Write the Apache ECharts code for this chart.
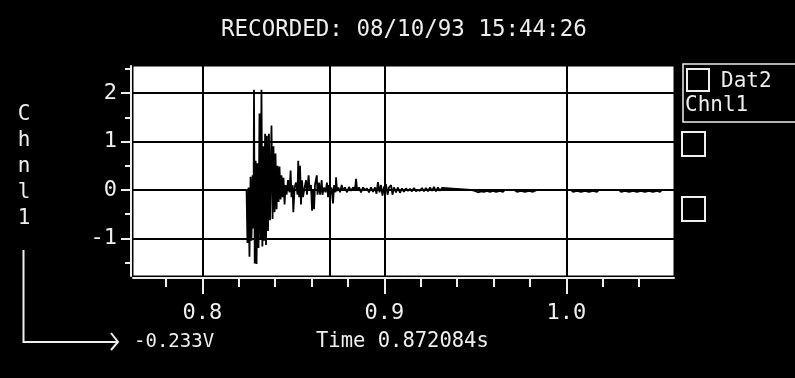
<!DOCTYPE html>
<html>
<head>
<meta charset="utf-8">
<script src="https://cdn.jsdelivr.net/npm/echarts@6/dist/echarts.min.js"></script>
<style>
html,body{margin:0;padding:0;background:#000;}
#c{width:795px;height:378px;}
</style>
</head>
<body>
<div id="c"></div>
<script>
// ---- data (time in s, voltage in V) ----
const times = [
0.8243,0.8248,0.8254,0.8259,0.8265,0.8270,0.8276,0.8281,0.8284,0.8288,
0.8293,0.8298,0.8303,0.8309,0.8314,0.8320,0.8325,0.8330,0.8335,0.8339,
0.8345,0.8350,0.8355,0.8361,0.8366,0.8372,0.8380,0.8386,0.8391,0.8397,
0.8402,0.8408,0.8413,0.8419,0.8424,0.8430,0.8435,0.8441,0.8446,0.8452,
0.8457,0.8463,0.8471,0.8479,0.8485,0.8490,0.8496,0.8500,0.8507,0.8515,
0.8523,0.8527,0.8532,0.8537,0.8542,0.8548,0.8553,0.8562,0.8570,0.8575,
0.8584,0.8589,0.8597,0.8603,0.8608,0.8614,0.8619,0.8629,0.8633,0.8641,
0.8647,0.8656,0.8660,0.8669,0.8677,0.8685,0.8691,0.8696,0.8702,0.8710,
0.8718,0.8724,0.8732,0.8735,0.8740,0.8748,0.8757,0.8766,0.8773,0.8784,
0.8795,0.8806,0.8817,0.8828,0.8839,0.8845,0.8850,0.8861,0.8872,0.8883,
0.8894,0.8905,0.8916,0.8927,0.8938,0.8949,0.8957,0.8965,0.8974,0.8982,
0.8990,0.8998,0.9009,0.9018,0.9026,0.9037,0.9045,0.9053,0.9064,0.9075,
0.9086,0.9097,0.9108,0.9119,0.9130,0.9141,0.9152,0.9163,0.9174,0.9185,
0.9196,0.9207,0.9218,0.9229,0.9240,0.9251,0.9262,0.9273,0.9284,0.9295,
0.9306,0.9317,0.9323,
0.9476,0.9482,0.9498,0.9515,0.9531,0.9548,0.9564,0.9581,0.9597,0.9614,
0.9636,0.9652,0.9663,0.9713,0.9718,0.9729,0.9751,0.9773,0.9795,0.9817,
0.9839,0.9921,0.9927,0.9938,1.0026,1.0037,1.0059,1.0081,1.0103,1.0125,
1.0147,1.0169,1.0180,1.0290,1.0301,1.0323,1.0345,1.0367,1.0389,1.0410,
1.0432,1.0454,1.0476,1.0498,1.0515,1.0526
];
const volts = [
0,-1.10,0.05,-1.38,0.27,-1.05,0.30,-0.80,2.07,-1.52,
0.60,-1.53,0.55,-1.20,1.58,-1.00,2.07,-1.17,0.90,-1.05,
1.16,-1.14,1.12,-0.85,1.16,-0.63,1.33,-0.60,0.90,-0.46,
0.75,-0.40,0.50,-0.25,0.48,-0.20,0.30,-0.15,0.25,-0.30,
0.10,-0.10,0.20,-0.05,0.40,-0.15,0.10,-0.46,0.05,0.15,
-0.10,0.60,-0.15,0.50,-0.30,0.20,-0.15,0.05,0.20,-0.10,
0.30,0.00,0.10,-0.43,0.00,-0.40,0.10,0.30,-0.10,0.15,
-0.10,0.20,-0.10,0.05,-0.05,0.15,-0.15,0.10,-0.10,0.05,
-0.28,0.10,-0.05,0.26,-0.02,0.05,-0.05,0.10,0.00,0.05,
-0.05,0.06,-0.02,0.05,0.02,0.23,0.00,0.05,-0.05,0.05,
0.00,0.03,-0.05,0.05,-0.04,0.05,-0.08,0.16,-0.05,0.10,
-0.12,0.05,0.12,-0.10,0.05,0.10,-0.10,0.05,-0.05,0.05,
-0.06,0.03,-0.04,0.03,-0.02,0.02,-0.03,0.04,-0.03,0.00,
-0.02,0.04,-0.03,0.04,-0.03,0.05,-0.02,0.06,-0.03,0.05,
-0.02,0.04,0,
0,-0.04,-0.02,-0.05,-0.03,-0.04,-0.02,-0.04,-0.02,-0.04,
-0.02,-0.04,0,0,0.04,-0.04,-0.02,-0.04,-0.02,-0.04,
0,0,-0.04,0,0,-0.04,-0.02,-0.04,-0.02,-0.04,
-0.02,-0.04,0,0,-0.04,-0.02,-0.04,-0.02,-0.04,-0.02,
-0.04,-0.02,-0.04,-0.02,-0.04,0
];
const xMajorTicks = [0.8, 0.9, 1.0];
const xMinorTicks = [0.78, 0.82, 0.84, 0.86, 0.88, 0.92, 0.94, 0.96, 0.98, 1.02, 1.04];
const yMajorTicks = [-1, 0, 1, 2];
const yMinorTicks = [-1.5, -0.5, 0.5, 1.5, 2.5];
const cursorTime = 0.872084;
const titleText = 'RECORDED: 08/10/93 15:44:26';
const channelName = 'Chnl1';
const datasetName = 'Dat2';
const cursorVoltText = '-0.233V';
const cursorTimeText = 'Time 0.872084s';

const X_MIN = 0.7619, X_MAX = 1.0592, Y_MIN = -1.78, Y_MAX = 2.56;
const FONT = '"DejaVu Sans Mono", monospace';
const FG = '#eeeeee';

const seriesData = times.map((t, i) => [t, volts[i]]);

const chart = echarts.init(document.getElementById('c'), null, {renderer: 'canvas'});
const gridMarks = [];
xMajorTicks.forEach(v => gridMarks.push({xAxis: v}));
yMajorTicks.forEach(v => gridMarks.push({yAxis: v}));
gridMarks.push({xAxis: cursorTime});

chart.setOption({
  animation: false,
  backgroundColor: '#000',
  title: {
    text: titleText, left: 221, top: 19, padding: 0,
    textStyle: {color: FG, fontFamily: FONT, fontSize: 22.5, fontWeight: 'normal'}
  },
  grid: {left: 133, right: 121, top: 66, bottom: 102, show: true,
         backgroundColor: '#fff', borderColor: '#000', borderWidth: 1},
  xAxis: [{
    type: 'value', min: X_MIN, max: X_MAX, position: 'bottom', offset: 2,
    axisLine: {show: true, onZero: false, lineStyle: {color: FG, width: 2}},
    axisTick: {show: true, customValues: xMajorTicks, length: 16, lineStyle: {color: FG, width: 2}},
    axisLabel: {show: true, customValues: xMajorTicks, margin: 24, color: FG, fontFamily: FONT, fontSize: 22,
                formatter: v => v.toFixed(1)},
    splitLine: {show: false}
  }, {
    type: 'value', min: X_MIN, max: X_MAX, position: 'bottom', offset: 2,
    axisLine: {show: false, onZero: false},
    axisTick: {show: true, customValues: xMinorTicks, length: 9, lineStyle: {color: FG, width: 2}},
    axisLabel: {show: false},
    splitLine: {show: false}
  }],
  yAxis: [{
    type: 'value', min: Y_MIN, max: Y_MAX, position: 'left', offset: 2,
    axisLine: {show: true, onZero: false, lineStyle: {color: FG, width: 2}},
    axisTick: {show: true, customValues: yMajorTicks, length: 10, lineStyle: {color: FG, width: 2}},
    axisLabel: {show: true, customValues: yMajorTicks, margin: 14, color: FG, fontFamily: FONT, fontSize: 22},
    splitLine: {show: false}
  }, {
    type: 'value', min: Y_MIN, max: Y_MAX, position: 'left', offset: 2,
    axisLine: {show: false, onZero: false},
    axisTick: {show: true, customValues: yMinorTicks, length: 6, lineStyle: {color: FG, width: 2}},
    axisLabel: {show: false},
    splitLine: {show: false}
  }],
  series: [{
    name: channelName, type: 'line', xAxisIndex: 0, yAxisIndex: 0,
    data: seriesData, showSymbol: false, symbol: 'none',
    lineStyle: {color: '#000', width: 1.8}, silent: true,
    markLine: {silent: true, symbol: 'none', label: {show: false},
      lineStyle: {color: '#000', width: 2, type: 'solid'}, data: gridMarks}
  }],
  graphic: [
    {type: 'text', style: {text: channelName.split('').join('\n'), x: 24, y: 102, fill: FG,
      font: '21px ' + FONT, textAlign: 'center', lineHeight: 26}},
    {type: 'polyline', shape: {points: [[23.5, 250], [23.5, 342], [117, 342]]},
      style: {stroke: FG, lineWidth: 2, fill: null}},
    {type: 'polyline', shape: {points: [[111, 333], [118, 342], [111, 350]]},
      style: {stroke: FG, lineWidth: 2, fill: null}},
    {type: 'text', style: {text: cursorVoltText, x: 134, y: 342, fill: FG,
      font: '19px ' + FONT, textVerticalAlign: 'middle'}},
    {type: 'text', style: {text: cursorTimeText, x: 316, y: 342, fill: FG,
      font: '20.5px ' + FONT, textVerticalAlign: 'middle'}},
    {type: 'rect', shape: {x: 683, y: 64, width: 130, height: 58},
      style: {stroke: FG, lineWidth: 1.5, fill: null}},
    {type: 'rect', shape: {x: 687, y: 69, width: 22, height: 22},
      style: {stroke: FG, lineWidth: 2, fill: null}},
    {type: 'text', style: {text: datasetName, x: 721, y: 82, fill: FG,
      font: '21px ' + FONT, textVerticalAlign: 'middle'}},
    {type: 'text', style: {text: channelName, x: 685, y: 106, fill: FG,
      font: '21px ' + FONT, textVerticalAlign: 'middle'}},
    {type: 'rect', shape: {x: 682, y: 132, width: 23, height: 24},
      style: {stroke: FG, lineWidth: 2, fill: null}},
    {type: 'rect', shape: {x: 682, y: 197, width: 23, height: 24},
      style: {stroke: FG, lineWidth: 2, fill: null}}
  ]
});
</script>
</body>
</html>
